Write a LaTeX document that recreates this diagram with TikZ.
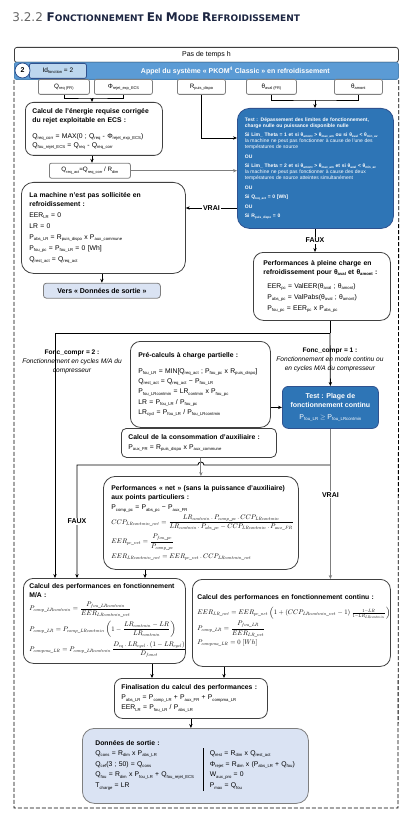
\documentclass[tikz,border=0pt]{standalone}
\usepackage[no-math]{fontspec}
\setmainfont{Liberation Sans}
\newfontfamily\titlefont{DejaVu Sans}
\usepackage{amsmath}
\usetikzlibrary{arrows.meta, positioning}

\DeclareFontShape{OML}{cmm}{m}{it}{<->cmmi10}{\skewchar\font=127}
\DeclareFontShape{OMS}{cmsy}{m}{n}{<->cmsy10}{\skewchar\font=48}
\DeclareFontShape{OT1}{cmr}{m}{n}{<->cmr10}{}
\DeclareMathSizes{6.8}{6.7}{4.6}{3.7}
\definecolor{bande}{HTML}{5B9BD5}
\definecolor{bleutest}{HTML}{2E75B6}
\definecolor{bordbleu}{HTML}{2F528F}
\definecolor{idclair}{HTML}{BDD7EE}
\definecolor{fondsortie}{HTML}{DAE3F3}
\definecolor{gristrait}{HTML}{7F7F7F}
\definecolor{titrenoir}{HTML}{1C2541}
\hyphenpenalty=10000
\exhyphenpenalty=10000
\makeatletter
\newcommand{\sbs}[1]{\raisebox{-0.2em}{\fontsize{\strip@pt\dimexpr0.62\dimexpr\f@size pt\relax\relax}{1}\selectfont #1}}
\makeatother
\newcommand{\jline}[1]{\makebox[\hsize][s]{#1}}
\newcommand{\petitcap}[2]{{\fontsize{12}{14}\selectfont #1}#2}

\begin{document}
\begin{tikzpicture}[x=1pt, y=-1pt, line width=0.8pt, >={Stealth[length=4pt,width=3.4pt]},
  box/.style={draw=black!75, fill=white, rounded corners=10pt, anchor=north west, align=left, inner xsep=8pt, font=\fontsize{6.8}{9}\selectfont},
  entree/.style={draw=gristrait, fill=white, rounded corners=2pt, anchor=north west, inner sep=0pt, minimum height=15pt, font=\fontsize{6.3}{7}\selectfont},
  bleu/.style={draw=bordbleu, fill=bleutest, text=white, anchor=north west},
  clairbox/.style={draw=gristrait, fill=fondsortie, anchor=north west},
  lbl/.style={fill=white, inner sep=1pt, font=\fontsize{7}{8}\selectfont\bfseries},
  fonc/.style={align=center, font=\fontsize{6.6}{9}\selectfont}]

\useasboundingbox (0,0) rectangle (415,826);

\node[anchor=base west, inner sep=0pt, text=titrenoir] (Titre) at (12,22) {\titlefont{\color{black!60}\fontsize{12}{14}\selectfont 3.2.2 }\bfseries\fontsize{9}{11}\selectfont\petitcap{F}{ONCTIONNEMENT} \petitcap{E}{N} \petitcap{M}{ODE} \petitcap{R}{EFROIDISSEMENT}};

\node[draw=black!75, fill=white, rounded corners=2.5pt, anchor=north west, minimum width=384pt, minimum height=15pt, inner sep=0pt, font=\fontsize{7}{8}\selectfont] (Pas) at (14,47) {Pas de temps h};
\node[draw=bande!85!black, fill=bande, rounded corners=2pt, anchor=north west, minimum width=384pt, minimum height=17pt, inner sep=0pt, text=white, font=\fontsize{7}{8}\selectfont\bfseries] (Appel) at (14,62) {\hspace*{58pt}Appel du système « PKOM\textsuperscript{4} Classic » en refroidissement};
\node[draw=bordbleu, fill=idclair, rounded corners=2pt, anchor=north west, minimum width=57pt, minimum height=15pt, inner sep=0pt, font=\fontsize{6.5}{7}\selectfont] (Id) at (29,63) {Id\sbs{fonction} = 2};
\node[circle, draw=bordbleu, fill=white, minimum size=15pt, inner sep=0pt, font=\fontsize{7}{8}\selectfont\bfseries] (Num) at (22.5,70.5) {2};

\draw[dash pattern=on 4pt off 2pt] (Appel.south west) -- (14,808) -- (398,808) -- (Appel.south east);

\node[entree, minimum width=51pt] (Qreq) at (38,79) {Q\sbs{req (FR)}};
\node[entree, minimum width=58pt] (Phi) at (94,79) {Φ\sbs{rejet\_exp\_ECS}};
\node[entree, minimum width=48pt] (Rpd) at (177,79) {R\sbs{puis\_dispo}};
\node[entree, minimum width=50pt] (Tav) at (246,79) {θ\sbs{aval (FR)}};
\node[entree, minimum width=48pt] (Tam) at (334,79) {θ\sbs{amont}};

\node[box, rounded corners=8pt, inner xsep=7pt, text width=123pt, minimum height=53pt] (Calc) at (25,102) {\textbf{Calcul de l'énergie requise corrigée}\\ \textbf{du rejet exploitable en ECS :}\\[7pt] Q\sbs{req\_corr} = MAX(0 ; Q\sbs{req} - Φ\sbs{rejet\_exp\_ECS})\\ Q\sbs{fou\_rejet\_ECS} = Q\sbs{req} - Q\sbs{req\_corr}};
\node[entree, minimum width=81pt, below=7pt of Calc, xshift=-4pt] (Qact) {Q\sbs{req\_act}=Q\sbs{req\_corr} / R\sbs{dim}};

\node[bleu, rounded corners=12pt, align=left, text width=141pt, inner xsep=7.5pt, minimum height=120pt, font=\fontsize{5}{6}\selectfont] (Test) at (237,108) {\jline{\bfseries Test : Dépassement des limites de fonctionnement,}\\ \textbf{charge nulle ou puissance disponible nulle}\\[3.5pt]
\jline{\bfseries Si Lim\_ Theta = 1 et si θ\sbs{amont} > θ\sbs{max\_am} ou si θ\sbs{aval} < θ\sbs{min\_av}}\\ \jline{la machine ne peut pas fonctionner à cause de l'une des}\\ températures de source\\[3.5pt]
\textbf{OU}\\[3.5pt]
\jline{\bfseries Si Lim\_ Theta = 2 et si θ\sbs{amont} > θ\sbs{max\_am} et si θ\sbs{aval} < θ\sbs{min\_av}}\\ \jline{la machine ne peut pas fonctionner à cause des deux}\\ températures de source atteintes simultanément\\[3.5pt]
\textbf{OU}\\[3.5pt]
\textbf{Si Q\sbs{req\_act} = 0 [Wh]}\\[3.5pt]
\textbf{OU}\\[3.5pt]
\textbf{Si R\sbs{puis\_dispo} = 0}};

\node[box, rounded corners=12pt, text width=148pt, minimum height=91pt] (Mach) at (21,182) {\textbf{La machine n'est pas sollicitée en}\\ \textbf{refroidissement :}\\[2pt] EER\sbs{LR} = 0\\[2pt] LR = 0\\[2pt] P\sbs{abs\_LR} = R\sbs{puis\_dispo} x P\sbs{aux\_commune}\\[2pt] P\sbs{fou\_pc} = P\sbs{fou\_LR} = 0 [Wh]\\[2pt] Q\sbs{rest\_act} = Q\sbs{req\_act}};
\node[clairbox, rounded corners=3pt, minimum width=117pt, minimum height=15pt, inner sep=0pt, font=\fontsize{7}{8}\selectfont\bfseries, below=9pt of Mach, xshift=-1.5pt] (Vers) {Vers « Données de sortie »};

\node[box, inner xsep=10pt, text width=117pt, minimum height=68pt] (Pc) at (253,252) {\textbf{Performances à pleine charge en}\\ \textbf{refroidissement pour θ\sbs{aval} et θ\sbs{amont} :}\\[5pt] \hspace*{4pt}EER\sbs{pc} = ValEER(θ\sbs{aval} ; θ\sbs{amont})\\[2pt] \hspace*{4pt}P\sbs{abs\_pc} = ValPabs(θ\sbs{aval} ; θ\sbs{amont})\\[2pt] \hspace*{4pt}P\sbs{fou\_pc} = EER\sbs{pc} x P\sbs{abs\_pc}};

\node[fonc] (F2) at (72,362) {\textbf{Fonc\_compr = 2 :}\\ \textit{Fonctionnement en cycles M/A du}\\ \textit{compresseur}};
\node[fonc] (F1) at (330,360) {\textbf{Fonc\_compr = 1 :}\\ \textit{Fonctionnement en mode continu ou}\\ \textit{en cycles M/A du compresseur}};

\node[box, text width=124pt, minimum height=86pt] (Pre) at (130,341) {\textbf{Pré-calculs à charge partielle :}\\[7pt] P\sbs{fou\_LR} = MIN[Q\sbs{req\_act} ; P\sbs{fou\_pc} x R\sbs{puis\_dispo}]\\[1.3pt] Q\sbs{rest\_act} = Q\sbs{req\_act} − P\sbs{fou\_LR}\\[1.3pt] P\sbs{fou\_LRcontmin} = LR\sbs{contmin} x P\sbs{fou\_pc}\\[1.3pt] LR = P\sbs{fou\_LR} / P\sbs{fou\_pc}\\[1.3pt] LR\sbs{cycl} = P\sbs{fou\_LR} / P\sbs{fou\_LRcontmin}};
\node[box, rounded corners=5pt, inner xsep=7pt, text width=141pt, minimum height=29pt] (Aux) at (121,428) {\textbf{Calcul de la consommation d'auxiliaire :}\\[1pt] P\sbs{aux\_FR} = R\sbs{puis\_dispo} x P\sbs{aux\_commune}};
\node[bleu, rounded corners=6pt, minimum width=96pt, minimum height=42pt, align=center, inner sep=0pt, font=\fontsize{7}{9}\selectfont] (Plage) at (282,386) {\textbf{Test : Plage de}\\ \textbf{fonctionnement continu}\\[3pt] P\sbs{fou\_LR} $\geq$ P\sbs{fou\_LRcontmin}};

\node[box, rounded corners=12pt, text width=179pt, minimum height=93pt] (Net) at (103,476) {\textbf{Performances « net » (sans la puissance d'auxiliaire)}\\ \textbf{aux points particuliers :}\\[1pt]
P\sbs{comp\_pc} = P\sbs{abs\_pc} − P\sbs{aux\_FR}\\[2pt]
\mbox{$CCP_{LRcontmin\_net}=\dfrac{LR_{contmin}\,.\,P_{comp\_pc}\,.\,CCP_{LRcontmin}}{LR_{contmin}\,.\,P_{abs\_pc}-CCP_{LRcontmin}\,.\,P_{aux\_FR}}$}\\[2.5pt]
\mbox{$EER_{pc\_net}=\dfrac{P_{fou\_pc}}{P_{comp\_pc}}$}\\[2.5pt]
\mbox{$EER_{LRcontmin\_net}=EER_{pc\_net}\,.\,CCP_{LRcontmin\_net}$}};

\node[box, rounded corners=10pt, inner xsep=6pt, text width=150pt, minimum height=85pt] (MA) at (23,578) {\textbf{Calcul des performances en fonctionnement}\\ \textbf{M/A :}\\[2.5pt]
\mbox{$P_{comp\_LRcontmin}=\dfrac{P_{fou\_LRcontmin}}{EER_{LRcontmin\_net}}$}\\[3pt]
\mbox{$P_{comp\_LR}=P_{comp\_LRcontmin}\left(1-\dfrac{LR_{contmin}-LR}{LR_{contmin}}\right)$}\\[3pt]
\mbox{$P_{compma\_LR}=P_{comp\_LRcontmin}\,\dfrac{D_{eq}\,.\,LR_{cycl}\,.\left(1-LR_{cycl}\right)}{D_{fonct}}$}};
\node[box, rounded corners=10pt, inner xsep=5pt, text width=188pt, minimum height=87pt] (Cont) at (192,579) {\textbf{Calcul des performances en fonctionnement continu :}\\[5pt]
\mbox{$EER_{LR\_net}=EER_{pc\_net}\left(1+\left(CCP_{LRcontmin\_net}-1\right)\frac{1-LR}{1-LR_{LRcontmin}}\right)$}\\[1pt]
\mbox{$P_{comp\_LR}=\dfrac{P_{fou\_LR}}{EER_{LR\_net}}$}\\[1pt]
\mbox{$P_{compma\_LR}=0\;[Wh]$}\\[-2pt]\mbox{}};

\node[box, rounded corners=8pt, inner xsep=7pt, text width=139pt, minimum height=40pt] (Fin) at (114,678) {\textbf{Finalisation du calcul des performances :}\\[1pt] P\sbs{abs\_LR} = P\sbs{comp\_LR} + P\sbs{aux\_FR} + P\sbs{compma\_LR}\\[1pt] EER\sbs{LR} = P\sbs{fou\_LR} / P\sbs{abs\_LR}};

\node[clairbox, rounded corners=12pt, inner xsep=13pt, text width=200pt, minimum height=75pt, align=left, font=\fontsize{6.8}{9}\selectfont] (Sortie) at (82,728) {\textbf{Données de sortie :}\\[1pt]
\renewcommand{\arraystretch}{1.2}\setlength{\arrayrulewidth}{0.8pt}%
\begin{tabular}{@{}p{102pt}@{\hspace{6pt}}|@{\hspace{6pt}}l@{}}
Q\sbs{cons} = R\sbs{dim} x P\sbs{abs\_LR} & Q\sbs{rest} = R\sbs{dim} x Q\sbs{rest\_act}\\
Q\sbs{cef}(3 ; 50) = Q\sbs{cons} & Φ\sbs{rejet} = R\sbs{dim} x (P\sbs{abs\_LR} + Q\sbs{fou})\\
Q\sbs{fou} = R\sbs{dim} x P\sbs{fou\_LR} + Q\sbs{fou\_rejet\_ECS} & W\sbs{aux\_pro} = 0\\
T\sbs{charge} = LR & P\sbs{max} = Q\sbs{fou}
\end{tabular}};

\coordinate (J1) at (92,98);
\coordinate (J2) at (315,100);
\coordinate (R1) at (0,138);
\coordinate (V1) at (0,208);
\coordinate (B1) at (330,333);
\coordinate (B2) at (55,333);
\coordinate (B3) at (330,465);
\coordinate (B4) at (77,465);
\coordinate (H1) at (Net.north |- B3);
\coordinate (X1) at (145,0);
\coordinate (X2) at (152,0);
\coordinate (X3) at (224,0);

\draw (Qreq.south) |- (J1) -| (Phi.south);
\draw[->] (J1) -- (J1 |- Calc.north);
\draw (Tav.south) |- (J2) -| (Tam.south);
\draw[->] (J2) -- (J2 |- Test.north);
\draw[->] (Rpd.south) |- (Test.west |- R1);
\draw[->] (J1 |- Calc.south) -- (J1 |- Qact.north);
\draw[->, draw=gristrait, line width=1pt] (Qact.east) -- (Qact.east -| Test.west);
\draw[->] (Test.west |- V1) -- node[lbl]{VRAI} (Mach.east |- V1);
\draw[->] (Vers.north |- Mach.south) -- (Vers.north);
\draw[->] (J2 |- Test.south) -- node[lbl]{FAUX} (J2 |- Pc.north);
\draw (B1 |- Pc.south) -- (B1);
\draw[->] (B1) -- (Plage.north);
\draw[->] (B1) -- (B2) -- (B2 |- MA.north);
\draw[->] (Plage.west -| Pre.east) -- (Plage.west);
\draw[->, draw=gristrait, line width=1pt] (Plage.south) -- node[lbl, pos=0.44]{VRAI} (Plage.south |- Cont.north);
\draw[->] (B3) -- ([xshift=3pt]H1) arc[start angle=0, end angle=180, radius=3pt] -- (B4) -- node[lbl]{FAUX} (B4 |- MA.north);
\draw[->, draw=gristrait, line width=1pt] (Net.north |- Aux.south) -- (Net.north);
\draw[->] (Net.south -| X1) -- (MA.north -| X1);
\draw[->] (MA.south -| X2) -- (Fin.north -| X2);
\draw[->] (Cont.south -| X3) -- (Fin.north -| X3);
\draw[->] (Fin.south) -- (Fin.south |- Sortie.north);
\end{tikzpicture}
\end{document}
